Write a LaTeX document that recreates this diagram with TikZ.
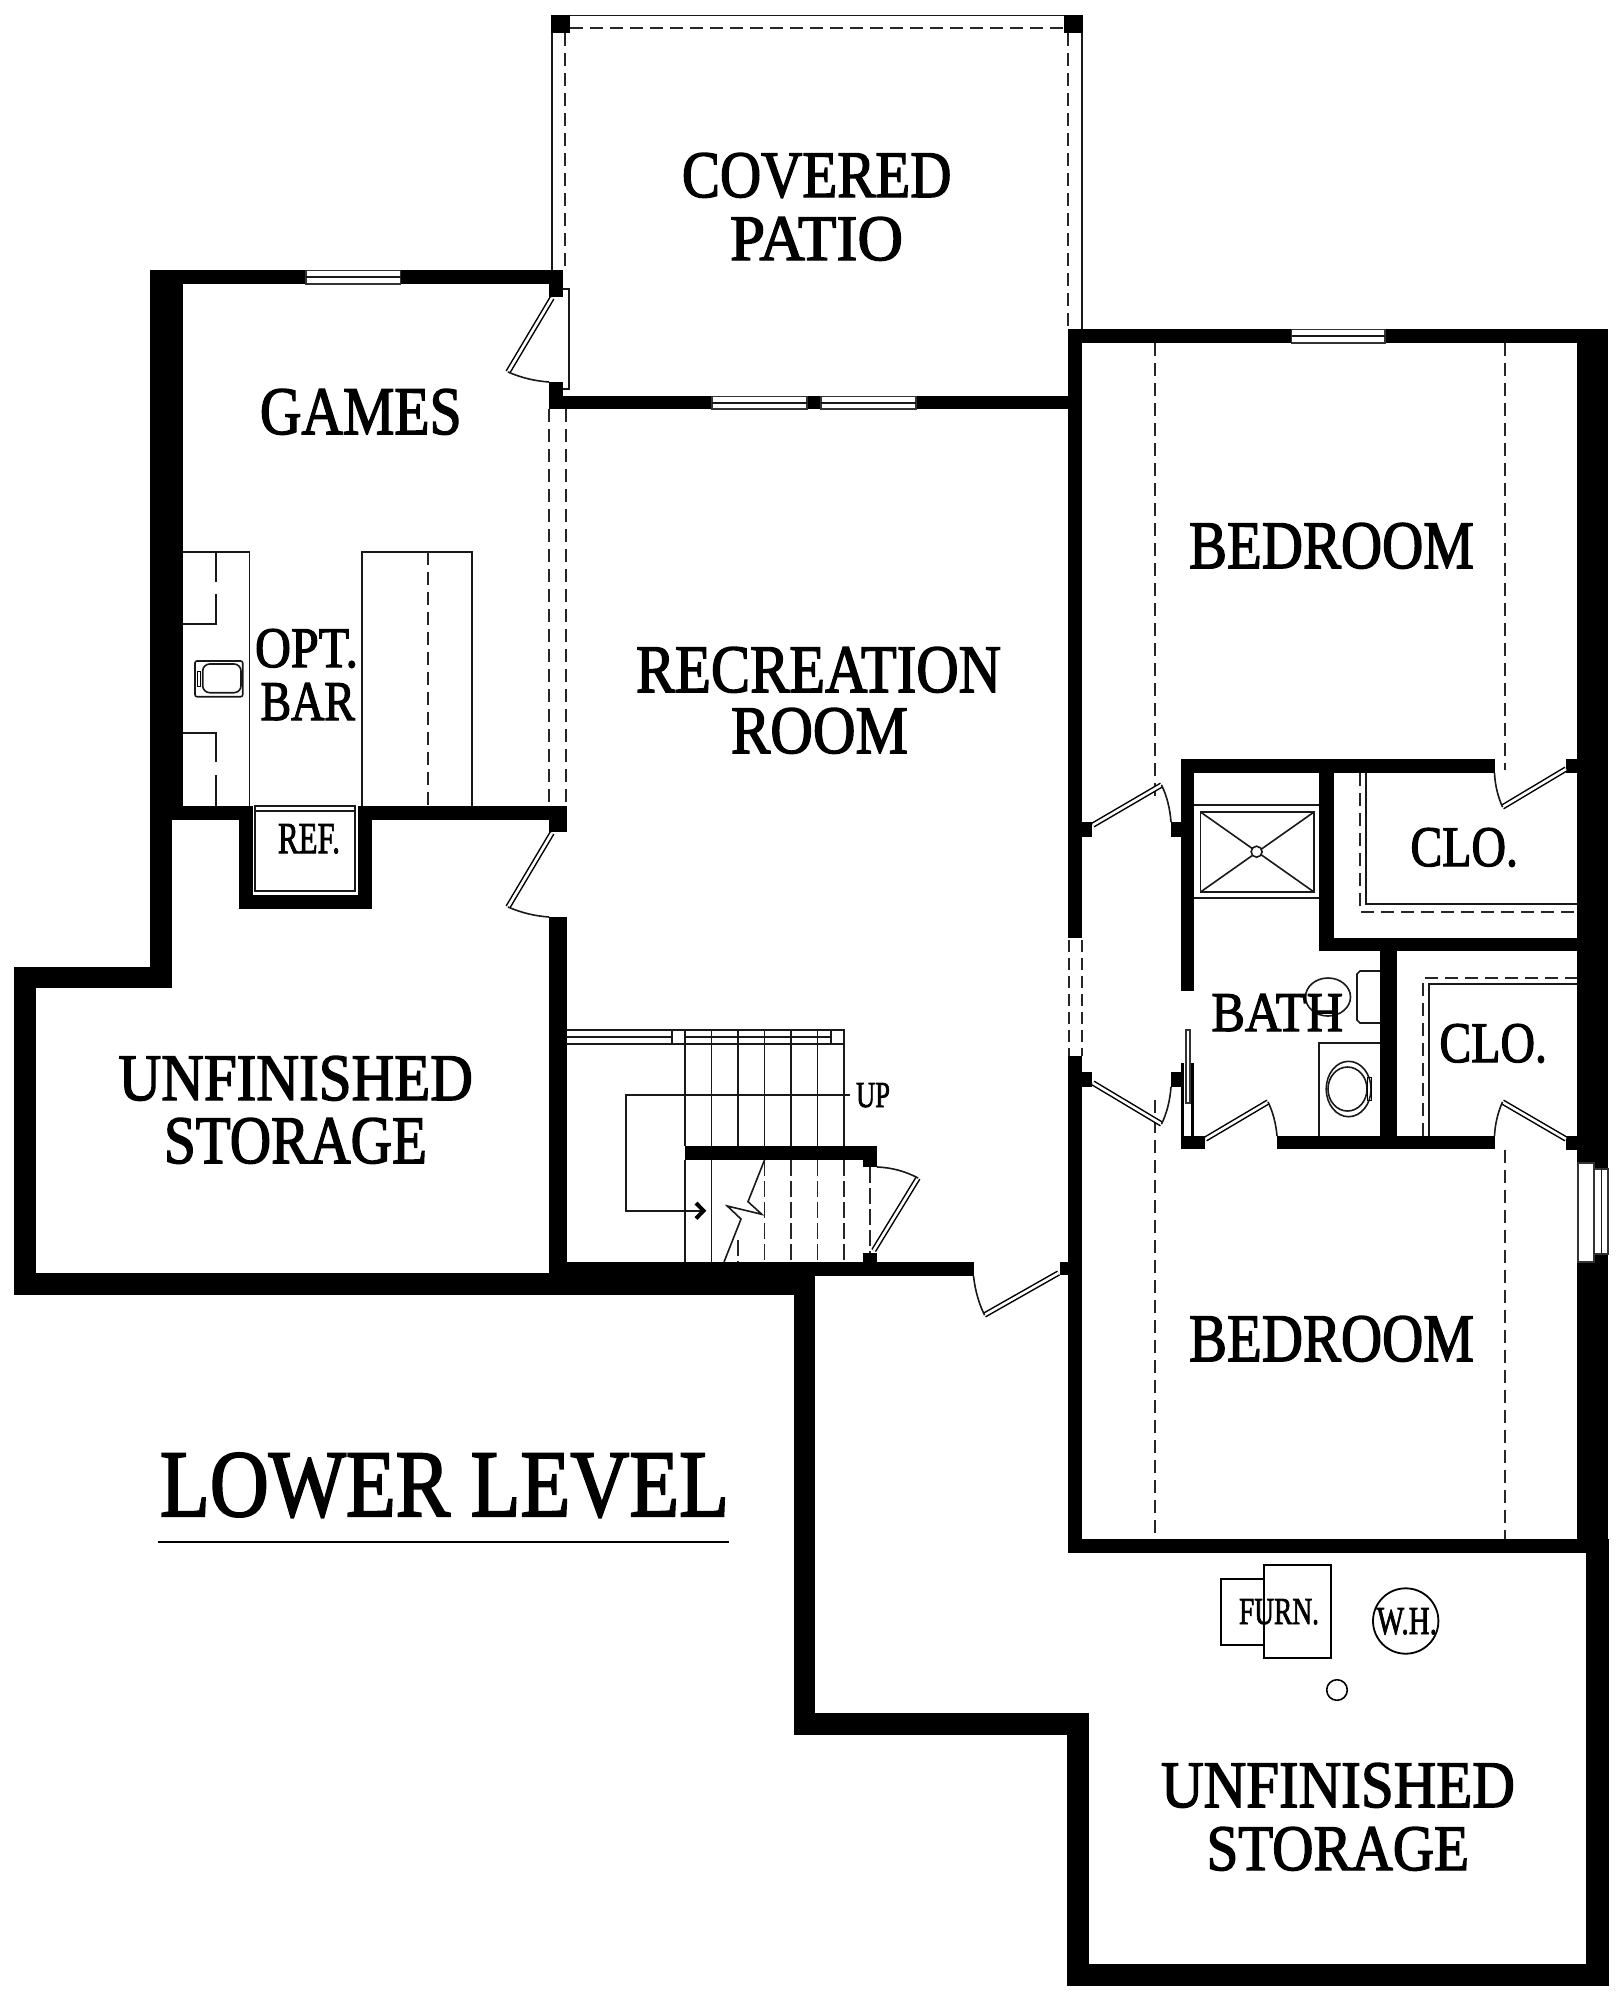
\documentclass[tikz,border=0pt]{standalone}
\usepackage{fontspec}
\usepackage{graphicx}
\setmainfont{Liberation Serif}
\newfontfamily\labfont[FakeBold=2.2]{Liberation Serif}
\newcommand{\lab}[6]{\node[lab] (#1) at (#2,#3) {\resizebox{#4pt}{#5pt}{\fontsize{50}{50}\labfont #6}};}
\newcommand{\panel}[2]{\draw[line width=5.6pt] #1 -- #2; \draw[white,line width=2.6pt] #1 -- #2;}
\tikzset{
  lab/.style={inner sep=0pt,anchor=base},
  wall/.style={fill=black},
  thin line/.style={line width=1.6pt,draw=black!90},
  dash line/.style={line width=1.6pt,draw=black!85,dash pattern=on 13pt off 7pt},
  win/.style={fill=white,draw=black!80,line width=1.3pt},
}
\begin{document}
\begin{tikzpicture}[x=1pt,y=-1pt]
\fill[white] (0,0) rectangle (1621,2000);
\useasboundingbox (0,0) rectangle (1621,2000);

% ---- patio
\draw[thin line] (552,33) -- (552,270);
\draw[thin line] (1082,33) -- (1082,330);
\draw[thin line] (570,15.5) -- (1064,15.5);
\draw[dash line] (570,28) -- (1064,28);
\draw[dash line] (565,33) -- (565,270);
\draw[dash line] (1068,33) -- (1068,329);
\fill[wall] (551,15) rectangle (570,33);
\fill[wall] (1064,15) rectangle (1082.5,33);
\draw[thin line] (563,289) -- (569,289) -- (569,389) -- (563,389);

% ---- games / recreation walls
\fill[wall] (150,270) rectangle (563,284);
\fill[wall] (150,270) rectangle (183,820);
\fill[wall] (549,270) rectangle (563,297);
\fill[wall] (549,382) rectangle (563,409);
\fill[wall] (549,396) rectangle (1082,409);
\fill[wall] (150,806) rectangle (253,820);
\fill[wall] (358,806) rectangle (567,820);
\fill[wall] (549,806) rectangle (567,832);
\fill[wall] (239,806) rectangle (253,909);
\fill[wall] (358,806) rectangle (372,909);
\fill[wall] (239,895) rectangle (372,909);
\fill[wall] (150,806) rectangle (172,988);
\fill[wall] (13.5,967) rectangle (172,988);
\fill[wall] (13.5,967) rectangle (35.5,1295);
\fill[wall] (13.5,1273) rectangle (794,1295);
\fill[wall] (549,917) rectangle (567,1295);
\fill[wall] (549,1262) rectangle (973.5,1276);
\fill[wall] (549,1262) rectangle (815,1295);
\fill[wall] (794,1262) rectangle (815,1735);
\fill[wall] (794,1713) rectangle (1088.5,1735);
\fill[wall] (1067,1713) rectangle (1088.5,1986);
\fill[wall] (1067,1964) rectangle (1608.5,1986);
\fill[wall] (1586,1539) rectangle (1608.5,1986);

% ---- bedroom walls
\fill[wall] (1068,329) rectangle (1608,343);
\fill[wall] (1577,329) rectangle (1608,1553);
\fill[wall] (1068,329) rectangle (1082,938);
\fill[wall] (1068,1056) rectangle (1082,1553);
\fill[wall] (1068,1539) rectangle (1608,1553);
\fill[wall] (1082,822) rectangle (1092,837);
\fill[wall] (1171,822) rectangle (1181,837);
\fill[wall] (1082,1072) rectangle (1092,1087);
\fill[wall] (1171,1072) rectangle (1181,1087);
\fill[wall] (1180.5,759) rectangle (1494.5,773);
\fill[wall] (1180.5,759) rectangle (1194,991);
\fill[wall] (1319,759) rectangle (1334,951);
\fill[wall] (1319,938) rectangle (1578,951);
\fill[wall] (1380,938) rectangle (1397,1149);
\fill[wall] (1277,1136) rectangle (1494.5,1149);
\fill[wall] (1566,759) rectangle (1578,773);
\fill[wall] (1566,1136) rectangle (1578,1150);
\fill[wall] (1180.5,1063) rectangle (1184,1149);
\fill[wall] (1191,1063) rectangle (1194,1149);
\fill[wall] (1180.5,1136) rectangle (1205,1149);
\draw[win] (1186,1030) rectangle (1190,1103);

% west bedroom wall opening
\draw[dash line,dash pattern=on 12pt off 6pt] (1069,940) -- (1069,1056);
\draw[dash line,dash pattern=on 12pt off 6pt] (1082,940) -- (1082,1056);

% ---- windows
\draw[win] (306,270.5) rectangle (400.5,284); \draw[thin line] (306,277) -- (400.5,277);
\draw[win] (712,396.5) rectangle (807,409); \draw[thin line] (712,403) -- (807,403);
\draw[win] (821,396.5) rectangle (916,409); \draw[thin line] (821,403) -- (916,403);
\draw[win] (1291.5,329.5) rectangle (1385,343); \draw[thin line] (1291.5,336) -- (1385,336);
\draw[win] (1578,1163) rectangle (1594,1262);
\draw[win] (1594.5,1169) rectangle (1608,1254); \draw[thin line] (1601.3,1169) -- (1601.3,1254);

% ---- bedroom dashed lines
\draw[dash line] (1155,343) -- (1155,800);
\draw[dash line] (1505,343) -- (1505,770);
\draw[dash line] (1155,1100) -- (1155,1539);
\draw[dash line] (1505,1150) -- (1505,1539);

% ---- recreation dashed opening
\draw[dash line] (549,409) -- (549,806);
\draw[dash line] (566,409) -- (566,806);

% ---- doors
\panel{(552,298)}{(508,372)}
\draw[thin line] (508,372) .. controls (522,378) and (535,381) .. (549,382);
\panel{(552,833)}{(508,907)}
\draw[thin line] (508,907) .. controls (522,913) and (535,916) .. (549,917);
\panel{(1093,825)}{(1161.5,785)}
\draw[thin line] (1161.5,785) .. controls (1167,796) and (1170,809) .. (1171,822);
\panel{(1093,1083)}{(1161.5,1124)}
\draw[thin line] (1161.5,1124) .. controls (1167,1113) and (1170,1100) .. (1171,1087);
\panel{(1566,769)}{(1502.5,807)}
\draw[thin line] (1502.5,807) .. controls (1498,797) and (1495,785) .. (1494.5,773);
\panel{(1566,1139)}{(1502.5,1102)}
\draw[thin line] (1502.5,1102) .. controls (1498,1112) and (1495,1124) .. (1494.5,1136);
\panel{(1205.5,1139)}{(1268,1102)}
\draw[thin line] (1268,1102) .. controls (1273,1112) and (1276,1124) .. (1277,1136);
\panel{(873.7,1250.5)}{(918,1178)}
\draw[thin line] (918,1178) .. controls (905,1171) and (891,1167.5) .. (877,1167);
\panel{(1058.5,1273)}{(984.5,1315)}
\draw[thin line] (984.5,1315) .. controls (979,1304) and (975,1290) .. (973.5,1276);
\fill[wall] (1059.5,1262) rectangle (1068,1275);
\fill[wall] (863,1253) rectangle (877,1262);

% ---- stairs
\fill[wall] (685,1146) rectangle (877,1160);
\fill[wall] (863,1146) rectangle (877,1167);
\draw[thin line] (566,1030) -- (844,1030) -- (844,1146);
\draw[thin line] (566,1037) -- (672,1037);
\draw[thin line] (685,1037) -- (831,1037);
\draw[thin line] (566,1044) -- (844,1044);
\draw[thin line] (672,1030) -- (672,1044);
\draw[thin line] (831,1030) -- (831,1044);
\foreach \x in {685,711.5,738,764.5,791,817.6} \draw[thin line] (\x,1030) -- (\x,1146);
\foreach \x in {685,711.5} \draw[thin line] (\x,1160) -- (\x,1262);
\draw[dash line,dash pattern=on 16pt off 5pt] (738,1240) -- (738,1262);
\foreach \x in {764.5,791,817.6,844} \draw[dash line,dash pattern=on 16pt off 5pt] (\x,1160) -- (\x,1262);
\draw[dash line,dash pattern=on 16pt off 5pt] (870,1167) -- (870,1253);
\draw[thin line] (764.5,1160) -- (748,1201.7) -- (761.8,1214.3) -- (727.3,1206) -- (741,1219) -- (724,1262);
\draw[thin line] (849.6,1094.7) -- (625.8,1094.7) -- (625.8,1210.7) -- (703,1210.7);
\draw[line width=4pt] (696,1203) -- (703.5,1210.7) -- (696,1218.5);

% ---- bar
\draw[thin line] (183,552) -- (249.3,552) -- (249.3,806);
\draw[thin line] (216,552) -- (216,581.7);
\draw[thin line] (216,594) -- (216,624) -- (183,624);
\draw[thin line] (183,732.7) -- (216,732.7) -- (216,761.7);
\draw[thin line] (216,775) -- (216,806);
\draw[thin line,rounded corners=2pt] (195,661) rectangle (242.7,696.7);
\draw[thin line,rounded corners=7pt] (202.7,664) rectangle (241,692.7);
\draw[line width=0.8pt] (197,671) rectangle (200,686.7);
\draw[thin line] (361.7,806) -- (361.7,552) -- (471.7,552) -- (471.7,806);
\draw[dash line] (427.7,552) -- (427.7,806);

% ---- ref
\draw[thin line] (255,806) rectangle (355,890.7);
\draw[thin line] (255,810.7) -- (355,810.7);

% ---- shower
\draw[thin line] (1194,805) -- (1319,805);
\draw[thin line] (1194,898) -- (1319,898);
\draw[thin line] (1200.5,812) rectangle (1314,892);
\draw[thin line] (1200.5,812) -- (1314,892);
\draw[thin line] (1314,812) -- (1200.5,892);
\draw[thin line,fill=white] (1256.6,851.7) circle (5.5);

% ---- closets
\draw[thin line] (1366,773) -- (1366,904) -- (1577,904);
\draw[dash line] (1360,773) -- (1360,912) -- (1577,912);
\draw[thin line] (1429,1136) -- (1429,984) -- (1577,984);
\draw[dash line] (1423,1136) -- (1423,978) -- (1577,978);

% ---- bath fixtures
\draw[thin line] (1328,997) ellipse (22.5 and 19);
\draw[thin line] (1380,971) -- (1360,971) -- (1357,974) -- (1357,1020) -- (1360,1023) -- (1380,1023);
\draw[thin line] (1380,1043) -- (1319,1043) -- (1319,1136);
\draw[thin line] (1348.6,1089) ellipse (22.4 and 27.7);
\draw[thin line] (1347.5,1089) ellipse (19.5 and 22);
\draw[line width=0.8pt] (1367,1077) rectangle (1371,1100);

% ---- utility
\draw[line width=1.8pt] (1220.7,1579) rectangle (1264,1645);
\draw[line width=1.8pt] (1264,1565) rectangle (1330.7,1658);
\draw[line width=1.8pt] (1405.7,1621) circle (32.7);
\draw[line width=1.6pt] (1337,1690) circle (10.3);

% ---- title rule
\draw[line width=2.2pt] (158,1541.7) -- (729,1541.7);

% ---- labels
\lab{covered}{816.7}{197}{269.5}{44}{COVERED}
\lab{patio}{816.5}{260}{173}{43}{PATIO}
\lab{games}{360.8}{434}{201.7}{45}{GAMES}
\lab{opt}{306.5}{667}{103}{38}{OPT.}
\lab{bar}{307.8}{720}{94.3}{37}{BAR}
\lab{ref}{309}{853}{62}{29}{REF.}
\lab{recreation}{818.5}{692}{365}{45}{RECREATION}
\lab{room}{819.5}{753}{177}{45}{ROOM}
\lab{unfa}{295.8}{1100}{354.4}{44}{UNFINISHED}
\lab{stoa}{295.5}{1163}{263}{45}{STORAGE}
\lab{beda}{1331.5}{568}{285}{45}{BEDROOM}
\lab{bedb}{1331.5}{1361}{285}{45}{BEDROOM}
\lab{cloa}{1464.2}{866}{107.5}{38}{CLO.}
\lab{clob}{1493.2}{1062}{107.5}{38}{CLO.}
\lab{bath}{1277.2}{1031}{131.5}{37}{BATH}
\lab{up}{873}{1107}{34}{24}{UP}
\lab{lower}{444.5}{1516}{569}{63}{LOWER LEVEL}
\lab{furn}{1279}{1624}{80}{25}{FURN.}
\lab{wh}{1406.8}{1634}{60.3}{26}{W.H.}
\lab{unfb}{1338}{1807}{354}{44}{UNFINISHED}
\lab{stob}{1337.8}{1870}{262.5}{43}{STORAGE}
\end{tikzpicture}
\end{document}
